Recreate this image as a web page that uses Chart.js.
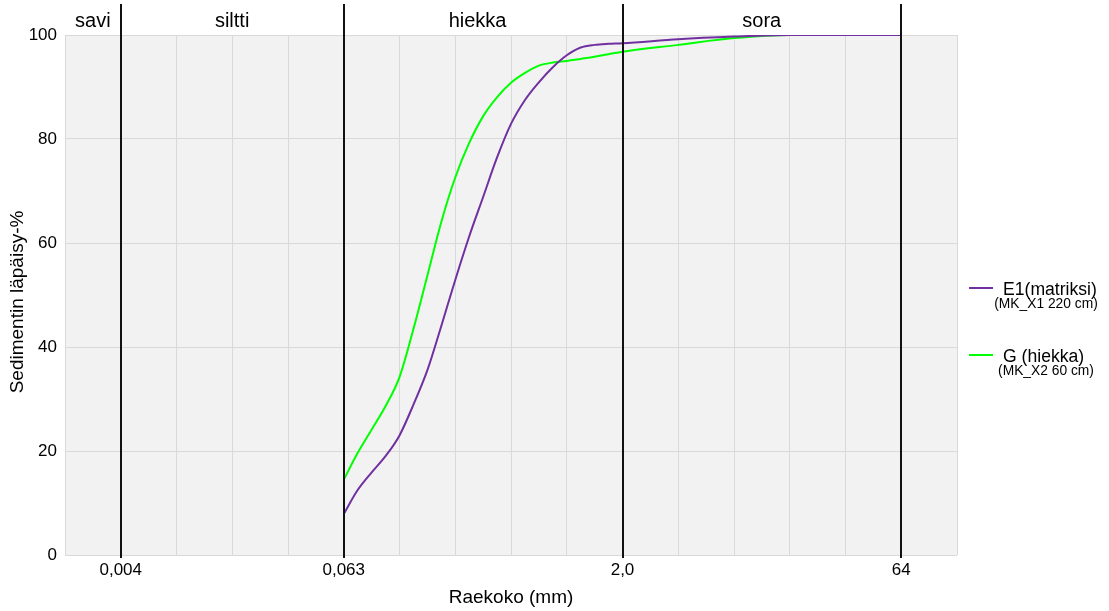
<!DOCTYPE html>
<html>
<head>
<meta charset="utf-8">
<title>Raekokojakauma</title>
<style>
  html, body { margin: 0; padding: 0; background: #ffffff; }
  #wrap { width: 1109px; height: 611px; position: relative; }
</style>
<script src="https://cdn.jsdelivr.net/npm/chart.js@4.4.1/dist/chart.umd.min.js"></script>
</head>
<body>
<div id="wrap"><canvas id="grain" width="1109" height="611"></canvas></div>
<script>
// Grain sizes (mm) and cumulative passing percentages of the two samples
const sizesMm = [0.063, 0.074, 0.088, 0.105, 0.125, 0.149, 0.177, 0.21, 0.25, 0.297, 0.354, 0.42, 0.5,
                 0.595, 0.707, 0.841, 1, 1.19, 1.41, 1.68, 2, 4, 8, 16, 32, 64];
const e1Passing = [8.1, 12.4, 15.8, 19.0, 23.0, 29.0, 35.6, 44.0, 52.9, 61.2, 68.9, 76.4, 82.9,
                   87.5, 90.9, 93.8, 96.1, 97.6, 98.1, 98.3, 98.4, 99.2, 99.7, 100, 100, 100];
const gPassing  = [14.7, 19.5, 24.0, 28.6, 34.2, 43.6, 53.8, 64.0, 72.6, 79.2, 84.4, 88.0, 90.8,
                   92.7, 94.1, 94.7, 95.0, 95.4, 95.8, 96.3, 96.8, 98.1, 99.4, 100, 100, 100];

const seriesNames = ['E1(matriksi)', 'G (hiekka)'];
const seriesNotes = ['(MK_X1 220 cm)', '(MK_X2 60 cm)'];
const seriesColors = ['#7030a0', '#00ff00'];

// Grain-size class boundaries (phi-scale, mm) and their tick labels
const boundaryMm = [1 / 256, 1 / 16, 2, 64];
const boundaryLabels = ['0,004', '0,063', '2,0', '64'];

// Grain-size classes and where their names are centred (mm)
const classNames = ['savi', 'siltti', 'hiekka', 'sora'];
const classCentersMm = [0.00276, 0.0156, 0.33, 11.3];

// Grid every phi unit from 2^-9 to 2^7 mm
const gridExponents = [-9, -8, -7, -6, -5, -4, -3, -2, -1, 0, 1, 2, 3, 4, 5, 6, 7];

const yTitle = 'Sedimentin läpäisy-%';

const FONT = '"Liberation Sans", Arial, "DejaVu Sans", sans-serif';

function toPoints(ys) {
  return sizesMm.map((x, i) => ({ x: x, y: ys[i] }));
}

const plotBackground = {
  id: 'plotBackground',
  beforeDraw(chart) {
    const { ctx, chartArea: a } = chart;
    ctx.save();
    ctx.fillStyle = '#f2f2f2';
    ctx.fillRect(a.left, a.top, a.right - a.left, a.bottom - a.top);
    ctx.restore();
  }
};

const classDividers = {
  id: 'classDividers',
  afterDatasetsDraw(chart) {
    const { ctx, chartArea: a } = chart;
    const xs = chart.scales.x;
    ctx.save();
    ctx.strokeStyle = '#111111';
    ctx.lineWidth = 2;
    boundaryMm.forEach(v => {
      const px = Math.round(xs.getPixelForValue(v));
      ctx.beginPath();
      ctx.moveTo(px, 4);
      ctx.lineTo(px, a.bottom + 3);
      ctx.stroke();
    });
    ctx.fillStyle = '#000000';
    ctx.font = '20px ' + FONT;
    ctx.textAlign = 'center';
    ctx.textBaseline = 'alphabetic';
    classNames.forEach((name, i) => {
      ctx.fillText(name, xs.getPixelForValue(classCentersMm[i]), 27);
    });
    ctx.restore();
  }
};

const sideText = {
  id: 'sideText',
  afterDraw(chart) {
    const { ctx } = chart;
    ctx.save();
    // vertical axis title
    ctx.translate(18, 302);
    ctx.rotate(-Math.PI / 2);
    ctx.fillStyle = '#000000';
    ctx.font = '19px ' + FONT;
    ctx.textAlign = 'center';
    ctx.textBaseline = 'middle';
    ctx.fillText(yTitle, 0, 0);
    ctx.restore();

    // legend on the right
    const rows = [288, 355];
    ctx.save();
    chart.data.datasets.forEach((ds, i) => {
      const y = rows[i];
      ctx.strokeStyle = ds.borderColor;
      ctx.lineWidth = 2;
      ctx.beginPath();
      ctx.moveTo(969, y);
      ctx.lineTo(993, y);
      ctx.stroke();
      ctx.fillStyle = '#000000';
      ctx.textBaseline = 'middle';
      ctx.textAlign = 'left';
      ctx.font = '17.6px ' + FONT;
      ctx.fillText(ds.label, 1003, y + 2);
      ctx.textAlign = 'center';
      ctx.font = '13.8px ' + FONT;
      ctx.fillText(seriesNotes[i], 1046, y + 16);
    });
    ctx.restore();
  }
};

const ctx = document.getElementById('grain').getContext('2d');
new Chart(ctx, {
  type: 'line',
  data: {
    datasets: [
      {
        label: seriesNames[0],
        data: toPoints(e1Passing),
        borderColor: seriesColors[0],
        borderWidth: 2,
        pointRadius: 0,
        fill: false,
        cubicInterpolationMode: 'monotone'
      },
      {
        label: seriesNames[1],
        data: toPoints(gPassing),
        borderColor: seriesColors[1],
        borderWidth: 2,
        pointRadius: 0,
        fill: false,
        cubicInterpolationMode: 'monotone'
      }
    ]
  },
  options: {
    responsive: false,
    animation: false,
    layout: { padding: { top: 35, right: 152, left: 0, bottom: 0 } },
    plugins: {
      legend: { display: false },
      tooltip: { enabled: false }
    },
    scales: {
      x: {
        type: 'logarithmic',
        min: Math.pow(2, -9),
        max: Math.pow(2, 7),
        afterBuildTicks(scale) {
          scale.ticks = gridExponents.map(e => ({ value: Math.pow(2, e) }));
        },
        afterFit(scale) { scale.height = 56; },
        grid: { color: '#d9d9d9', lineWidth: 1, drawTicks: false },
        border: { display: false },
        ticks: {
          autoSkip: false,
          maxRotation: 0,
          padding: 5,
          color: '#000000',
          font: { family: FONT, size: 17 },
          callback(value) {
            const idx = boundaryMm.findIndex(b => Math.abs(Math.log2(b) - Math.log2(value)) < 1e-6);
            return idx >= 0 ? boundaryLabels[idx] : '';
          }
        },
        title: {
          display: true,
          text: 'Raekoko (mm)',
          color: '#000000',
          font: { family: FONT, size: 19 },
          padding: { top: 0, bottom: 2 }
        }
      },
      y: {
        min: 0,
        max: 100,
        afterFit(scale) { scale.width = 65; },
        grid: { color: '#d9d9d9', lineWidth: 1, drawTicks: false },
        border: { display: false },
        ticks: {
          stepSize: 20,
          padding: 8,
          color: '#000000',
          font: { family: FONT, size: 17 }
        }
      }
    }
  },
  plugins: [plotBackground, classDividers, sideText]
});
</script>
</body>
</html>
